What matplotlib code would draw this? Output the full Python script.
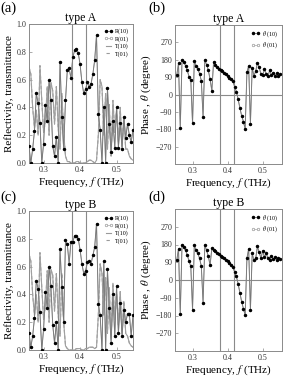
import matplotlib
matplotlib.use("Agg")
import matplotlib.pyplot as plt
from matplotlib.lines import Line2D

plt.rcParams['font.family'] = ['Liberation Serif', 'DejaVu Serif']
plt.rcParams['mathtext.fontset'] = 'stix'

# ---------------- data ----------------
freq_R = [0.260, 0.265, 0.270, 0.275, 0.280, 0.285, 0.290, 0.295, 0.300, 0.305,
          0.310, 0.315, 0.320, 0.325, 0.330, 0.335, 0.340, 0.345, 0.350, 0.355,
          0.360, 0.365, 0.370, 0.375, 0.380, 0.385, 0.390, 0.395, 0.400, 0.405,
          0.410, 0.415, 0.420, 0.425, 0.430, 0.435, 0.440, 0.445, 0.450, 0.455,
          0.460, 0.465, 0.470, 0.475, 0.480, 0.485, 0.490, 0.495, 0.500, 0.505,
          0.510, 0.515, 0.520, 0.525, 0.530, 0.535, 0.540, 0.545]

R_A = [0.12, 0.00, 0.10, 0.23, 0.50, 0.43, 0.29, 0.00, 0.14, 0.42,
       0.30, 0.60, 0.45, 0.12, 0.05, 0.19, 0.00, 0.73, 0.33, 0.10,
       0.45, 0.67, 0.68, 0.61, 0.76, 0.81, 0.82, 0.79, 0.71, 0.58,
       0.50, 0.53, 0.58, 0.55, 0.57, 0.64, 0.74, 0.92, 0.35, 0.24,
       0.00, 0.40, 0.00, 0.54, 0.28, 0.08, 0.30, 0.11, 0.40, 0.11,
       0.29, 0.10, 0.33, 0.18, 0.28, 0.20, 0.15, 0.24]

T_A = [0.69, 0.64, 0.40, 0.25, 0.38, 0.20, 0.70, 0.45, 0.22, 0.30,
       0.55, 0.20, 0.58, 0.52, 0.28, 0.55, 0.25, 0.10, 0.50, 0.22,
       0.05, 0.01, 0.01, 0.00, 0.00, 0.00, 0.01, 0.01, 0.00, 0.00,
       0.00, 0.00, 0.01, 0.02, 0.02, 0.01, 0.00, 0.02, 0.20, 0.60,
       0.55, 0.20, 0.50, 0.10, 0.42, 0.05, 0.45, 0.22, 0.38, 0.15,
       0.40, 0.12, 0.33, 0.10, 0.10, 0.05, 0.03, 0.02]

R_B = [0.12, 0.02, 0.10, 0.23, 0.50, 0.44, 0.27, 0.00, 0.15, 0.42,
       0.30, 0.60, 0.46, 0.18, 0.05, 0.20, 0.00, 0.73, 0.45, 0.20,
       0.79, 0.76, 0.62, 0.78, 0.78, 0.82, 0.82, 0.80, 0.72, 0.62,
       0.55, 0.57, 0.63, 0.64, 0.62, 0.68, 0.74, 0.91, 0.33, 0.25,
       0.00, 0.64, 0.00, 0.58, 0.30, 0.05, 0.40, 0.10, 0.46, 0.12,
       0.34, 0.10, 0.29, 0.20, 0.26, 0.26, 0.10, 0.25]

T_B = [0.69, 0.64, 0.40, 0.25, 0.40, 0.20, 0.70, 0.45, 0.22, 0.32,
       0.57, 0.20, 0.58, 0.54, 0.28, 0.55, 0.25, 0.10, 0.55, 0.20,
       0.03, 0.01, 0.00, 0.00, 0.00, 0.00, 0.01, 0.01, 0.01, 0.00,
       0.00, 0.01, 0.01, 0.02, 0.02, 0.02, 0.01, 0.02, 0.25, 0.62,
       0.55, 0.25, 0.52, 0.12, 0.45, 0.08, 0.48, 0.22, 0.40, 0.18,
       0.42, 0.12, 0.35, 0.12, 0.10, 0.05, 0.03, 0.02]

freq_P = [0.255, 0.260, 0.265, 0.270, 0.275, 0.280, 0.285, 0.290, 0.295, 0.300,
          0.305, 0.310, 0.315, 0.320, 0.325, 0.330, 0.335, 0.340, 0.345, 0.350,
          0.355, 0.360, 0.365, 0.370, 0.375, 0.380, 0.385, 0.390, 0.395, 0.400,
          0.405, 0.410, 0.415, 0.420, 0.425, 0.430, 0.435, 0.440, 0.445, 0.450,
          0.455, 0.460, 0.465, 0.470, 0.475, 0.480, 0.485, 0.490, 0.495, 0.500,
          0.505, 0.510, 0.515, 0.520, 0.525, 0.530, 0.535, 0.540, 0.545, 0.550]

P_A = [100, 161, -173, 178, 168, 150, 125, 92, 74, -150,
       173, 150, 133, 108, 72, -116, 178, 155, 126, 78,
       20, 168, 155, 140, 133, 127, 120, 113, 105, 97,
       88, 78, 68, 40, 15, -25, -70, -110, -140, -178,
       115, 148, -152, 138, 97, 120, 165, 140, 105, 100,
       130, 108, 95, 125, 100, 112, 95, 110, 98, 105]

P_B = [100, 158, -173, 178, 165, 150, 128, 95, 70, -150,
       175, 152, 135, 110, 70, -115, 178, 150, 120, 75,
       160, 150, 145, 135, 130, 124, 117, 110, 103, 95,
       86, 76, 65, 40, 18, -20, -65, -110, -145, -178,
       110, 158, -152, 135, 100, 110, 170, 140, 110, 148,
       115, 135, 110, 100, 120, 104, 115, 100, 110, 104]

vlines = [0.377, 0.417]

# ---------------- figure ----------------
W, H = 291, 379
fig = plt.figure(figsize=(W / 100, H / 100), dpi=100)

def rect(l, t, r, b):
    return [l / W, 1 - b / H, (r - l) / W, (b - t) / H]

gray = '#8a8a8a'
tick_fs = 5.8
lab_fs = 8.0
ms_b = 1.4
ms_w = 2.0

def style(ax):
    for s in ax.spines.values():
        s.set_color(gray)
        s.set_linewidth(0.7)
    ax.tick_params(direction='in', length=2, width=0.5, colors=gray,
                   labelsize=tick_fs, labelcolor='#333333', pad=2)
    ax.set_xticks([0.3, 0.4, 0.5])
    ax.set_xticklabels(['0.3', '0.4', '0.5'])

def black_handle():
    return Line2D([], [], color='#666666', lw=0.5, marker='o', ms=1.5,
                  mfc='black', mec='black')

def white_handle():
    return Line2D([], [], color='#aaaaaa', lw=0.5, marker='o', ms=1.8,
                  mfc='white', mec='#999999', mew=0.5)

def refl_panel(ax, R, T, title):
    ax.plot(freq_R, T, color='#a0a0a0', lw=0.8, zorder=2)
    ax.plot(freq_R, T, color='#a0a0a0', lw=0.8, ls=(0, (3, 2)), zorder=2)
    ax.plot(freq_R, R, color='#aaaaaa', lw=0.7, marker='o', ms=ms_w,
            mfc='white', mec='#aaaaaa', mew=0.5, zorder=3)
    ax.plot(freq_R, R, color='#777777', lw=0.6, marker='o', ms=ms_b,
            mfc='black', mec='black', zorder=4)
    for v in vlines:
        ax.axvline(v, color=gray, lw=0.8, zorder=1)
    ax.set_xlim(0.26, 0.545)
    ax.set_ylim(0, 1.0)
    ax.set_yticks([0, 0.2, 0.4, 0.6, 0.8, 1.0])
    ax.set_yticklabels(['0.0', '0.2', '0.4', '0.6', '0.8', '1.0'])
    style(ax)
    ax.set_title(title, fontsize=8.5, pad=1.5)
    ax.set_xlabel('Frequency, $f$ (THz)', fontsize=lab_fs, labelpad=1)
    ax.set_ylabel('Reflectivity, transmittance', fontsize=lab_fs, labelpad=2)
    h = [black_handle(), white_handle(),
         Line2D([], [], color='#9a9a9a', lw=0.8),
         Line2D([], [], color='#9a9a9a', lw=0.8, ls=(0, (3, 2)))]
    ax.legend(h, ['R(10)', 'R(01)', 'T(10)', 'T(01)'], loc='upper right',
              fontsize=4.3, frameon=False, handlelength=1.3, handletextpad=0.4,
              labelspacing=0.3, borderaxespad=0.3, numpoints=2)

def phase_panel(ax, P, title):
    ax.plot(freq_P, P, color='#aaaaaa', lw=0.7, marker='o', ms=ms_w,
            mfc='white', mec='#aaaaaa', mew=0.5, zorder=3)
    ax.plot(freq_P, P, color='#777777', lw=0.6, marker='o', ms=ms_b,
            mfc='black', mec='black', zorder=4)
    for v in vlines:
        ax.axvline(v, color=gray, lw=0.8, zorder=1)
    ax.axhline(0, color=gray, lw=0.8, zorder=1)
    ax.set_xlim(0.25, 0.555)
    ax.set_ylim(-360, 360)
    ax.set_yticks([-270, -180, -90, 0, 90, 180, 270])
    style(ax)
    ax.set_title(title, fontsize=8.5, pad=1.5)
    ax.set_xlabel('Frequency, $f$ (THz)', fontsize=lab_fs, labelpad=1)
    ax.set_ylabel(r'Phase , $\theta$ (degree)', fontsize=lab_fs, labelpad=2)
    h = [black_handle(), white_handle()]
    ax.legend(h, [r'$\theta$ (10)', r'$\theta$ (01)'], loc='upper right',
              fontsize=4.3, frameon=False, handlelength=1.3, handletextpad=0.4,
              labelspacing=0.3, borderaxespad=0.3, numpoints=2)

axA = fig.add_axes(rect(29, 24, 133, 163))
axB = fig.add_axes(rect(175, 25, 282, 164))
axC = fig.add_axes(rect(29, 211, 133, 350))
axD = fig.add_axes(rect(175, 209, 282, 351))

refl_panel(axA, R_A, T_A, 'type A')
phase_panel(axB, P_A, 'type A')
refl_panel(axC, R_B, T_B, 'type B')
phase_panel(axD, P_B, 'type B')

for lab, x, y in [('(a)', 0, 2), ('(b)', 148, 2), ('(c)', 0, 191), ('(d)', 148, 191)]:
    fig.text(x / W, 1 - y / H, lab, fontsize=10.5, va='top', ha='left')

fig.savefig('out.png', dpi=100)
